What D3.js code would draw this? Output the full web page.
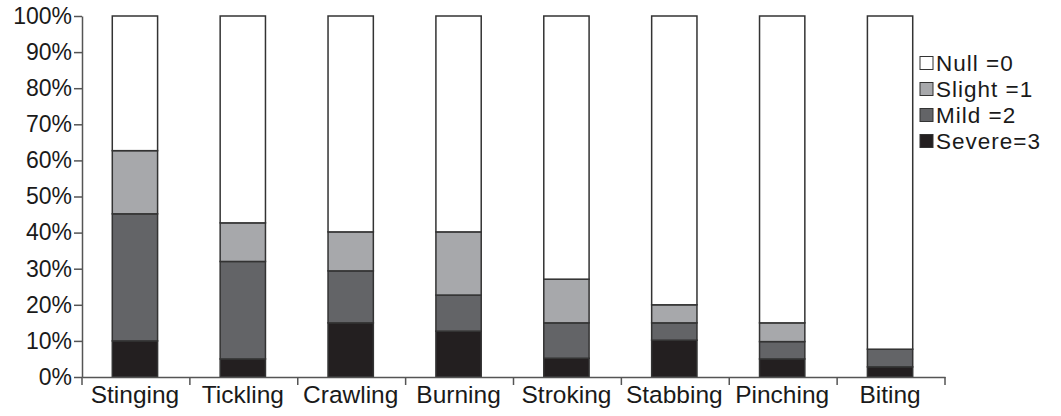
<!DOCTYPE html>
<html>
<head>
<meta charset="utf-8">
<script src="https://cdn.jsdelivr.net/npm/d3@7"></script>
<style>
  body { margin: 0; background: #fff; }
  svg { display: block; font-family: "Liberation Sans", Arial, sans-serif; }
  .axis path, .axis line { stroke: #555; stroke-width: 1.5; }
  .axis text { fill: #1a1a1a; font-size: 23px; }
  .x-axis text { font-size: 24.5px; }
  .legend-text { fill: #1a1a1a; font-size: 22.5px; letter-spacing: 1px; }
</style>
</head>
<body>
<svg id="chart"></svg>
<script>
// data: % of responses per severity level
const categories = ['Stinging', 'Tickling', 'Crawling', 'Burning', 'Stroking', 'Stabbing', 'Pinching', 'Biting']
const severe = [10, 5, 15, 12.7, 5.2, 10.2, 5, 2.8]
const mild = [35.2, 27, 14.4, 10, 9.8, 4.8, 4.8, 4.9]
const slight = [17.5, 10.7, 10.8, 17.5, 12.1, 5, 5.2, 0]
const levels = ['Null =0', 'Slight =1', 'Mild =2', 'Severe=3']
const levelColors = ['#ffffff', '#a7a8ab', '#636467', '#231f20']
const yTicks = [0, 10, 20, 30, 40, 50, 60, 70, 80, 90, 100]

const width = 1061, height = 416
const MARGIN = { top: 16, right: 116, bottom: 39, left: 82 }
const boundedWidth = width - MARGIN.left - MARGIN.right
const boundedHeight = height - MARGIN.top - MARGIN.bottom

const dataset = categories.map((c, i) => ({
  name: c,
  severe: severe[i],
  mild: mild[i],
  slight: slight[i],
  nil: 100 - severe[i] - mild[i] - slight[i]
}))

const $svg = d3.select('#chart').attr('width', width).attr('height', height)
const $gVis = $svg.append('g').attr('transform', `translate(${MARGIN.left}, ${MARGIN.top})`)

const xScale = d3.scaleBand().domain(categories).range([0, boundedWidth]).padding(0)
const yScale = d3.scaleLinear().domain([0, 100]).range([boundedHeight, 0])

// stacked bars
const stack = d3.stack().keys(['severe', 'mild', 'slight', 'nil'])
const series = stack(dataset)
const barW = xScale.bandwidth() * 0.42
const colorOf = { severe: levelColors[3], mild: levelColors[2], slight: levelColors[1], nil: levelColors[0] }

$gVis.selectAll('g.layer')
  .data(series)
  .enter()
  .append('g')
  .attr('class', 'layer')
  .attr('fill', d => colorOf[d.key])
  .selectAll('rect')
  .data(d => d.filter(s => s[1] - s[0] > 0))
  .enter()
  .append('rect')
  .attr('x', d => xScale(d.data.name) + xScale.bandwidth() / 2 - barW / 2 - 1)
  .attr('width', barW)
  .attr('y', d => yScale(d[1]))
  .attr('height', d => yScale(d[0]) - yScale(d[1]))
  .attr('stroke', '#333')
  .attr('stroke-width', 1.5)

// Y axis
$gVis.append('g')
  .attr('class', 'axis y-axis')
  .call(d3.axisLeft(yScale).tickValues(yTicks).tickSize(8).tickSizeOuter(0).tickPadding(2).tickFormat(d => `${d}%`))

// X axis: labels centred, ticks at category boundaries
const $xAxis = $gVis.append('g')
  .attr('class', 'axis x-axis')
  .attr('transform', `translate(0, ${boundedHeight})`)
  .call(d3.axisBottom(xScale).tickSize(0).tickSizeOuter(0).tickPadding(9))

$xAxis.selectAll('.tick').attr('transform', d => `translate(${xScale(d) + xScale.bandwidth() / 2 - 1}, 0)`)

const bounds = categories.map(c => xScale(c)).concat([boundedWidth])
$xAxis.selectAll('line.bound')
  .data(bounds)
  .enter()
  .append('line')
  .attr('class', 'bound')
  .attr('x1', d => d)
  .attr('x2', d => d)
  .attr('y1', 0)
  .attr('y2', 8)

// legend
const $gLegend = $svg.append('g').attr('transform', `translate(920, 63)`)
const rows = $gLegend.selectAll('g')
  .data(levels)
  .enter()
  .append('g')
  .attr('transform', (d, i) => `translate(0, ${i * 26})`)

rows.append('rect')
  .attr('x', 0)
  .attr('y', -6.5)
  .attr('width', 13)
  .attr('height', 13)
  .attr('fill', (d, i) => levelColors[i])
  .attr('stroke', '#333')
  .attr('stroke-width', 1)

rows.append('text')
  .attr('class', 'legend-text')
  .attr('x', 16)
  .attr('y', 0)
  .attr('dy', '0.36em')
  .text(d => d)
</script>
</body>
</html>
